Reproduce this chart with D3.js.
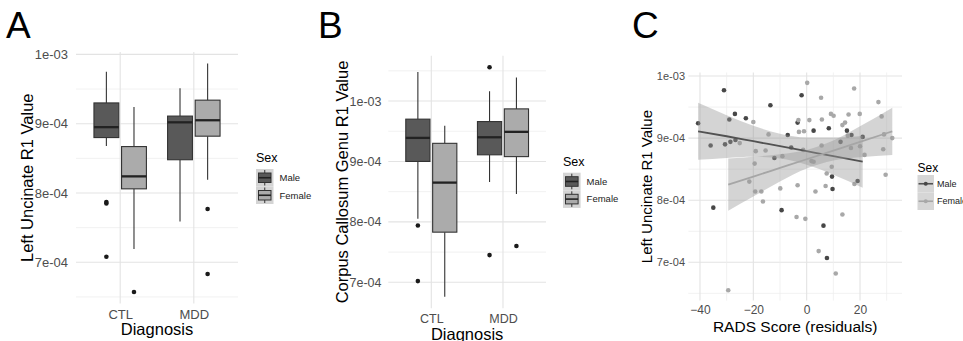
<!DOCTYPE html>
<html>
<head>
<meta charset="utf-8">
<script src="https://cdn.jsdelivr.net/npm/d3@7"></script>
<style>
  body { margin: 0; background: #fff; }
  svg { display: block; font-family: "Liberation Sans", Arial, sans-serif; }
</style>
</head>
<body>
<svg id="chart" width="963" height="341"></svg>
<script>
// All R1 values are in units of 1e-4.
const diagnosis = ["CTL", "MDD"];
const sexes = ["Male", "Female"];
const yTicks = [7, 8, 9, 10];
const yTickLabels = ["7e-04", "8e-04", "9e-04", "1e-03"];
const radsTicks = [-40, -20, 0, 20];

// Boxplot groups, each stats row: [lower whisker, Q1, median, Q3, upper whisker]
const boxGroups = [["CTL", "Male"], ["CTL", "Female"], ["MDD", "Male"], ["MDD", "Female"]];
const uncinateStats = [
  [8.68, 8.80, 8.95, 9.30, 9.75],
  [7.19, 8.06, 8.24, 8.67, 9.24],
  [7.59, 8.48, 9.02, 9.11, 9.51],
  [8.19, 8.82, 9.05, 9.34, 9.87]
];
const uncinateOutliers = [[7.87, 7.85, 7.08], [6.57], [], [7.77, 6.83]];
const genuStats = [
  [8.05, 9.00, 9.39, 9.70, 10.48],
  [6.76, 7.83, 8.65, 9.30, 9.59],
  [8.66, 9.11, 9.40, 9.66, 10.16],
  [8.46, 9.08, 9.49, 9.87, 10.39]
];
const genuOutliers = [[7.94, 7.02], [], [10.56, 7.45], [7.60]];

// Panel C scatter: RADS residuals vs left uncinate R1
const maleRads = [-40.7, -31.0, -36.0, -35.0, -30.6, -29.0, -28.6, -26.9, -26.7, -22.8, -13.6, -12.1,
  -9.4, -7.1, -5.8, -3.4, -1.9, 2.6, 6.3, 7.6, 8.3, 9.5, 9.7, 12.7, 15.1, 16.8, 19.1, 21.0];
const maleR1 = [9.24, 9.77, 8.88, 7.88, 8.90, 9.30, 8.94, 9.39, 8.97, 9.32, 9.53, 8.68,
  7.84, 9.05, 8.85, 9.25, 9.69, 9.12, 7.59, 7.07, 9.16, 8.38, 8.18, 8.94, 9.12, 9.05, 8.31, 9.02];
const femaleRads = [0.2, 17.8, 5.4, 26.9, 28.1, -20.0, -3.1, 1.0, 5.7, 9.1, 10.1, 15.7, 19.9, 13.4,
  14.4, -14.3, -2.9, -1.0, 15.4, 29.0, 32.1, -25.1, -19.1, -15.4, -1.3, 5.6, 16.6, 20.0, 28.7,
  -19.5, -9.1, 21.7, 1.8, 2.6, 9.4, 7.5, 29.6, -21.5, 17.9, -19.3, -17.0, -16.4, -9.9, -3.4,
  3.3, 7.1, -3.8, -0.5, 13.4, 4.5, 10.9, -29.4];
const femaleR1 = [9.89, 9.80, 9.65, 9.58, 9.35, 9.26, 9.29, 9.29, 9.30, 9.39, 9.36, 9.38, 9.39, 9.21,
  9.25, 9.06, 9.10, 9.11, 9.04, 9.06, 9.00, 8.92, 8.79, 8.80, 8.81, 8.88, 8.84, 8.87, 8.82,
  8.59, 8.71, 8.73, 8.63, 8.62, 8.54, 8.43, 8.41, 8.30, 8.26, 8.14, 8.14, 7.98, 8.19, 8.24,
  8.14, 8.23, 7.73, 7.70, 7.77, 7.18, 6.82, 6.55];

// Fitted lines with confidence bands
const maleFitX = [-40.7, -30, -20, -10, 0, 10, 21.0];
const maleFit = [9.11, 9.03, 8.95, 8.87, 8.79, 8.71, 8.62];
const maleLo = [8.65, 8.68, 8.70, 8.67, 8.57, 8.41, 8.20];
const maleHi = [9.57, 9.37, 9.20, 9.07, 9.01, 9.01, 9.04];
const femaleFitX = [-29.4, -20, -10, 0, 10, 20, 32.1];
const femaleFit = [8.25, 8.38, 8.52, 8.66, 8.80, 8.94, 9.11];
const femaleLo = [7.83, 8.06, 8.30, 8.51, 8.64, 8.69, 8.73];
const femaleHi = [8.67, 8.70, 8.74, 8.81, 8.96, 9.19, 9.49];

const svg = d3.select("#chart");
const boxFill = { Male: "#595959", Female: "#ababab" };
const pointFill = { Male: "#474747", Female: "#a8a8a8" };
const lineColor = { Male: "#525252", Female: "#a6a6a6" };
const gridMajor = "#e3e3e3", gridMinor = "#eeeeee";
const tickColor = "#4d4d4d";

function paddedDomain(values) {
  const [lo, hi] = d3.extent(values);
  const pad = (hi - lo) * 0.05;
  return [lo - pad, hi + pad];
}

function yGrid(g, y, x0, x1) {
  const [d0, d1] = y.domain();
  const minor = yTicks.map(t => t - 0.5).concat([yTicks[yTicks.length - 1] + 0.5])
    .filter(v => v > d0 && v < d1);
  g.selectAll(".ymin").data(minor).join("line")
    .attr("x1", x0).attr("x2", x1).attr("y1", d => y(d)).attr("y2", d => y(d))
    .attr("stroke", gridMinor).attr("stroke-width", 0.8);
  g.selectAll(".ymaj").data(yTicks).join("line")
    .attr("x1", x0).attr("x2", x1).attr("y1", d => y(d)).attr("y2", d => y(d))
    .attr("stroke", gridMajor).attr("stroke-width", 1.1);
}

function yAxis(g, y, left, labelRight, fs) {
  g.append("g")
    .attr("transform", `translate(${left},0)`)
    .call(d3.axisLeft(y).tickValues(yTicks).tickFormat((d, i) => yTickLabels[i])
      .tickSize(0).tickPadding(left - labelRight))
    .call(a => a.select(".domain").remove())
    .selectAll("text")
    .attr("fill", tickColor)
    .style("font-size", fs + "px")
    .style("font-family", "'Liberation Sans', Arial, sans-serif");
}

function panelLetter(txt, x) {
  svg.append("text").attr("x", x).attr("y", 38).text(txt)
    .style("font-size", "37px").attr("fill", "#000");
}

function boxPanel(o) {
  const g = svg.append("g");
  const y = d3.scaleLinear()
    .domain(paddedDomain(o.stats.flat().concat(o.outliers.flat())))
    .range([o.bottom, o.top]);
  const x = d3.scalePoint().domain(diagnosis).range([o.left, o.right]).padding(0.6);
  const step = x.step();
  const offset = s => (s === "Male" ? -0.1875 : 0.1875) * step;
  const bw = 0.3375 * step;

  yGrid(g, y, o.left, o.right);
  g.selectAll(".xmaj").data(diagnosis).join("line")
    .attr("x1", d => x(d)).attr("x2", d => x(d)).attr("y1", o.top).attr("y2", o.bottom)
    .attr("stroke", gridMajor).attr("stroke-width", 1.1);

  yAxis(g, y, o.left, o.labelRight, o.tickFs);
  g.append("g")
    .attr("transform", `translate(0,${o.bottom})`)
    .call(d3.axisBottom(x).tickSize(0).tickPadding(o.xPad))
    .call(a => a.select(".domain").remove())
    .selectAll("text")
    .attr("fill", tickColor)
    .style("font-size", o.tickFs + "px")
    .style("font-family", "'Liberation Sans', Arial, sans-serif");

  const boxes = g.selectAll(".box")
    .data(d3.zip(boxGroups, o.stats, o.outliers))
    .join("g").attr("class", "box")
    .attr("transform", d => `translate(${x(d[0][0]) + offset(d[0][1])},0)`);
  boxes.append("line").attr("x1", 0).attr("x2", 0)
    .attr("y1", d => y(d[1][4])).attr("y2", d => y(d[1][3]))
    .attr("stroke", "#333").attr("stroke-width", 1.1);
  boxes.append("line").attr("x1", 0).attr("x2", 0)
    .attr("y1", d => y(d[1][1])).attr("y2", d => y(d[1][0]))
    .attr("stroke", "#333").attr("stroke-width", 1.1);
  boxes.append("rect")
    .attr("x", -bw / 2).attr("width", bw)
    .attr("y", d => y(d[1][3])).attr("height", d => y(d[1][1]) - y(d[1][3]))
    .attr("fill", d => boxFill[d[0][1]]).attr("stroke", "#333").attr("stroke-width", 1.1);
  boxes.append("line").attr("x1", -bw / 2).attr("x2", bw / 2)
    .attr("y1", d => y(d[1][2])).attr("y2", d => y(d[1][2]))
    .attr("stroke", "#222").attr("stroke-width", 2.3);
  boxes.selectAll("circle").data(d => d[2]).join("circle")
    .attr("cx", 0).attr("cy", v => y(v)).attr("r", 2.3).attr("fill", "#1a1a1a");

  // axis titles
  svg.append("text")
    .attr("transform", `translate(${o.yTitleX},${(o.top + o.bottom) / 2}) rotate(-90)`)
    .attr("text-anchor", "middle").style("font-size", o.titleFs + "px").text(o.yTitle);
  svg.append("text")
    .attr("x", (o.left + o.right) / 2).attr("y", o.xTitleY)
    .attr("text-anchor", "middle").style("font-size", o.titleFs + "px").text("Diagnosis");

  // legend
  const lg = svg.append("g").attr("transform", `translate(${o.legX},${o.legY})`);
  lg.append("text").attr("x", 0).attr("y", -7).style("font-size", "12.5px").text("Sex");
  const ks = o.keySize;
  const key = lg.selectAll(".key").data(sexes).join("g")
    .attr("transform", (d, i) => `translate(0,${i * ks})`);
  key.append("rect").attr("width", ks).attr("height", ks).attr("fill", "#d4d4d4");
  key.append("line").attr("x1", ks / 2).attr("x2", ks / 2).attr("y1", 1).attr("y2", ks - 1)
    .attr("stroke", "#333").attr("stroke-width", 1);
  key.append("rect").attr("x", 2.5).attr("y", 4).attr("width", ks - 5).attr("height", ks - 8)
    .attr("fill", d => boxFill[d]).attr("stroke", "#333").attr("stroke-width", 1);
  key.append("line").attr("x1", 2.5).attr("x2", ks - 2.5).attr("y1", ks / 2).attr("y2", ks / 2)
    .attr("stroke", "#222").attr("stroke-width", 1.6);
  key.append("text").attr("x", ks + 6).attr("y", ks / 2).attr("dy", "0.35em")
    .style("font-size", "9.5px").attr("fill", "#1a1a1a").text(d => d);
}

panelLetter("A", 6);
boxPanel({
  stats: uncinateStats, outliers: uncinateOutliers,
  left: 76, right: 238, top: 52, bottom: 303.5,
  labelRight: 68, tickFs: 13, xPad: 6.5,
  yTitle: "Left Uncinate R1 Value", yTitleX: 32.5, titleFs: 16.5, xTitleY: 335,
  legX: 256, legY: 169, keySize: 17.5
});

panelLetter("B", 318);
boxPanel({
  stats: genuStats, outliers: genuOutliers,
  left: 388.3, right: 546, top: 55.7, bottom: 308.3,
  labelRight: 381.5, tickFs: 12.5, xPad: 6,
  yTitle: "Corpus Callosum Genu R1 Value", yTitleX: 347.5, titleFs: 16.5, xTitleY: 339.5,
  legX: 563, legY: 172.7, keySize: 17.6
});

// Panel C: scatter with linear fits
panelLetter("C", 632);
(function () {
  const left = 688.4, right = 902, top = 72.5, bottom = 300.6;
  const g = svg.append("g");
  const x = d3.scaleLinear().domain(paddedDomain(maleRads.concat(femaleRads))).range([left, right]);
  const y = d3.scaleLinear().domain(paddedDomain(maleR1.concat(femaleR1))).range([bottom, top]);

  yGrid(g, y, left, right);
  const xMinor = radsTicks.map(t => t + 10).concat([radsTicks[0] - 10])
    .filter(v => v > x.domain()[0] && v < x.domain()[1]);
  g.selectAll(".xmin").data(xMinor).join("line")
    .attr("x1", d => x(d)).attr("x2", d => x(d)).attr("y1", top).attr("y2", bottom)
    .attr("stroke", gridMinor).attr("stroke-width", 0.8);
  g.selectAll(".xmaj").data(radsTicks).join("line")
    .attr("x1", d => x(d)).attr("x2", d => x(d)).attr("y1", top).attr("y2", bottom)
    .attr("stroke", gridMajor).attr("stroke-width", 1.1);

  yAxis(g, y, left, 685, 11);
  g.append("g")
    .attr("transform", `translate(0,${bottom})`)
    .call(d3.axisBottom(x).tickValues(radsTicks).tickFormat(d3.format("d")).tickSize(0).tickPadding(5))
    .call(a => a.select(".domain").remove())
    .selectAll("text")
    .attr("fill", tickColor)
    .style("font-size", "12px")
    .style("font-family", "'Liberation Sans', Arial, sans-serif");

  const groups = [
    { sex: "Male", xs: maleRads, ys: maleR1, fx: maleFitX, fit: maleFit, lo: maleLo, hi: maleHi },
    { sex: "Female", xs: femaleRads, ys: femaleR1, fx: femaleFitX, fit: femaleFit, lo: femaleLo, hi: femaleHi }
  ];
  groups.forEach(s => {
    g.append("g").selectAll("circle").data(d3.zip(s.xs, s.ys)).join("circle")
      .attr("cx", d => x(d[0])).attr("cy", d => y(d[1])).attr("r", 2.3)
      .attr("fill", pointFill[s.sex]);
  });
  const area = d3.area().curve(d3.curveMonotoneX)
    .x(d => x(d[0])).y0(d => y(d[1])).y1(d => y(d[2]));
  const line = d3.line().curve(d3.curveMonotoneX).x(d => x(d[0])).y(d => y(d[1]));
  groups.forEach(s => {
    g.append("path").attr("d", area(d3.zip(s.fx, s.lo, s.hi)))
      .attr("fill", "#999").attr("fill-opacity", 0.42);
    g.append("path").attr("d", line(d3.zip(s.fx, s.fit)))
      .attr("fill", "none").attr("stroke", lineColor[s.sex]).attr("stroke-width", 1.8);
  });

  svg.append("text")
    .attr("transform", `translate(652,${(top + bottom) / 2}) rotate(-90)`)
    .attr("text-anchor", "middle").style("font-size", "15px").text("Left Uncinate R1 Value");
  svg.append("text")
    .attr("x", (left + right) / 2).attr("y", 332)
    .attr("text-anchor", "middle").style("font-size", "15.5px").text("RADS Score (residuals)");

  const lg = svg.append("g").attr("transform", "translate(917.5,175)");
  lg.append("text").attr("x", 0).attr("y", -3).style("font-size", "12px").text("Sex");
  const ks = 17.5;
  const key = lg.selectAll(".key").data(sexes).join("g")
    .attr("transform", (d, i) => `translate(0,${i * ks})`);
  key.append("rect").attr("width", 16.5).attr("height", ks).attr("fill", "#d6d6d6");
  key.append("line").attr("x1", 1).attr("x2", 15.5).attr("y1", ks / 2).attr("y2", ks / 2)
    .attr("stroke", d => lineColor[d]).attr("stroke-width", 1.6);
  key.append("circle").attr("cx", 8.25).attr("cy", ks / 2).attr("r", 2)
    .attr("fill", d => pointFill[d]);
  key.append("text").attr("x", 19.5).attr("y", ks / 2).attr("dy", "0.35em")
    .style("font-size", "9px").attr("fill", "#1a1a1a").text(d => d);
})();
</script>
</body>
</html>
